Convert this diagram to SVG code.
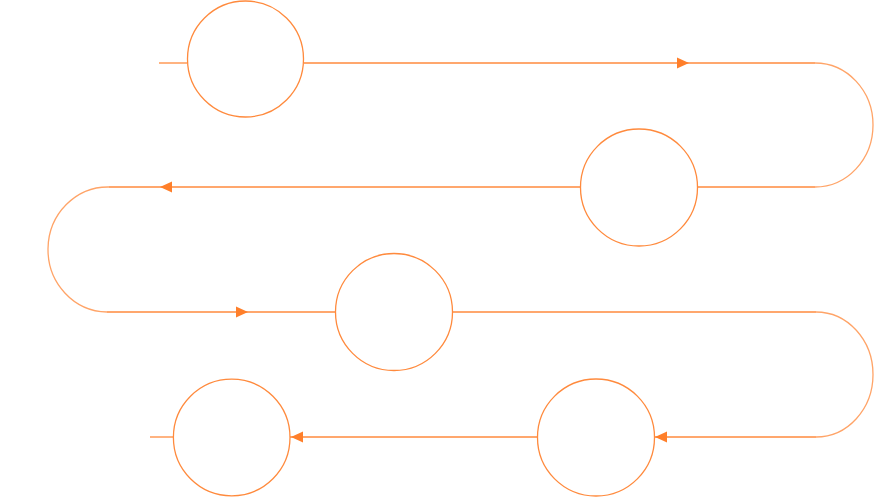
<svg xmlns="http://www.w3.org/2000/svg" width="874" height="497" viewBox="0 0 874 497">
<style>
.node circle{fill:#ffffff;stroke:#FF8A3D;stroke-width:1.3}
.conn path.l{fill:none;stroke:#FF8A3D;stroke-width:1.3}
.conn path.a{fill:none;stroke:#FFA468;stroke-width:1.3}
.conn polygon{fill:#FF7F2A}
</style>
<rect width="874" height="497" fill="#ffffff"/>
<g id="connectors" class="conn">
<path class="l" d="M159 63 H187"/>
<path class="l" d="M304 63 H815"/>
<path class="a" d="M815 63 A58 62 0 0 1 815 187"/>
<path class="l" d="M815 187 H697"/>
<path class="l" d="M581 187 H109"/>
<path class="a" d="M109 187 A60 62.5 0 0 0 107 312"/>
<path class="l" d="M107 312 H336"/>
<path class="l" d="M453 312 H816"/>
<path class="a" d="M816 312 A57 62.5 0 0 1 816 437"/>
<path class="l" d="M816 437 H655"/>
<path class="l" d="M537 437 H290"/>
<path class="l" d="M150 437 H173"/>
<polygon points="677,57.5 689,63 677,68.5"/>
<polygon points="160,187 172,181.5 172,192.5"/>
<polygon points="248,312 236,306.5 236,317.5"/>
<polygon points="655,437 667,431.5 667,442.5"/>
<polygon points="291,437 303,431.5 303,442.5"/>
</g>
<g id="node1" class="node"><circle cx="245.5" cy="59" r="58"/></g>
<g id="node2" class="node"><circle cx="639" cy="187.5" r="58.5"/></g>
<g id="node3" class="node"><circle cx="394" cy="312" r="58.5"/></g>
<g id="node4" class="node"><circle cx="596" cy="437.5" r="58.5"/></g>
<g id="node5" class="node"><circle cx="231.7" cy="437.5" r="58.3"/></g>
</svg>
